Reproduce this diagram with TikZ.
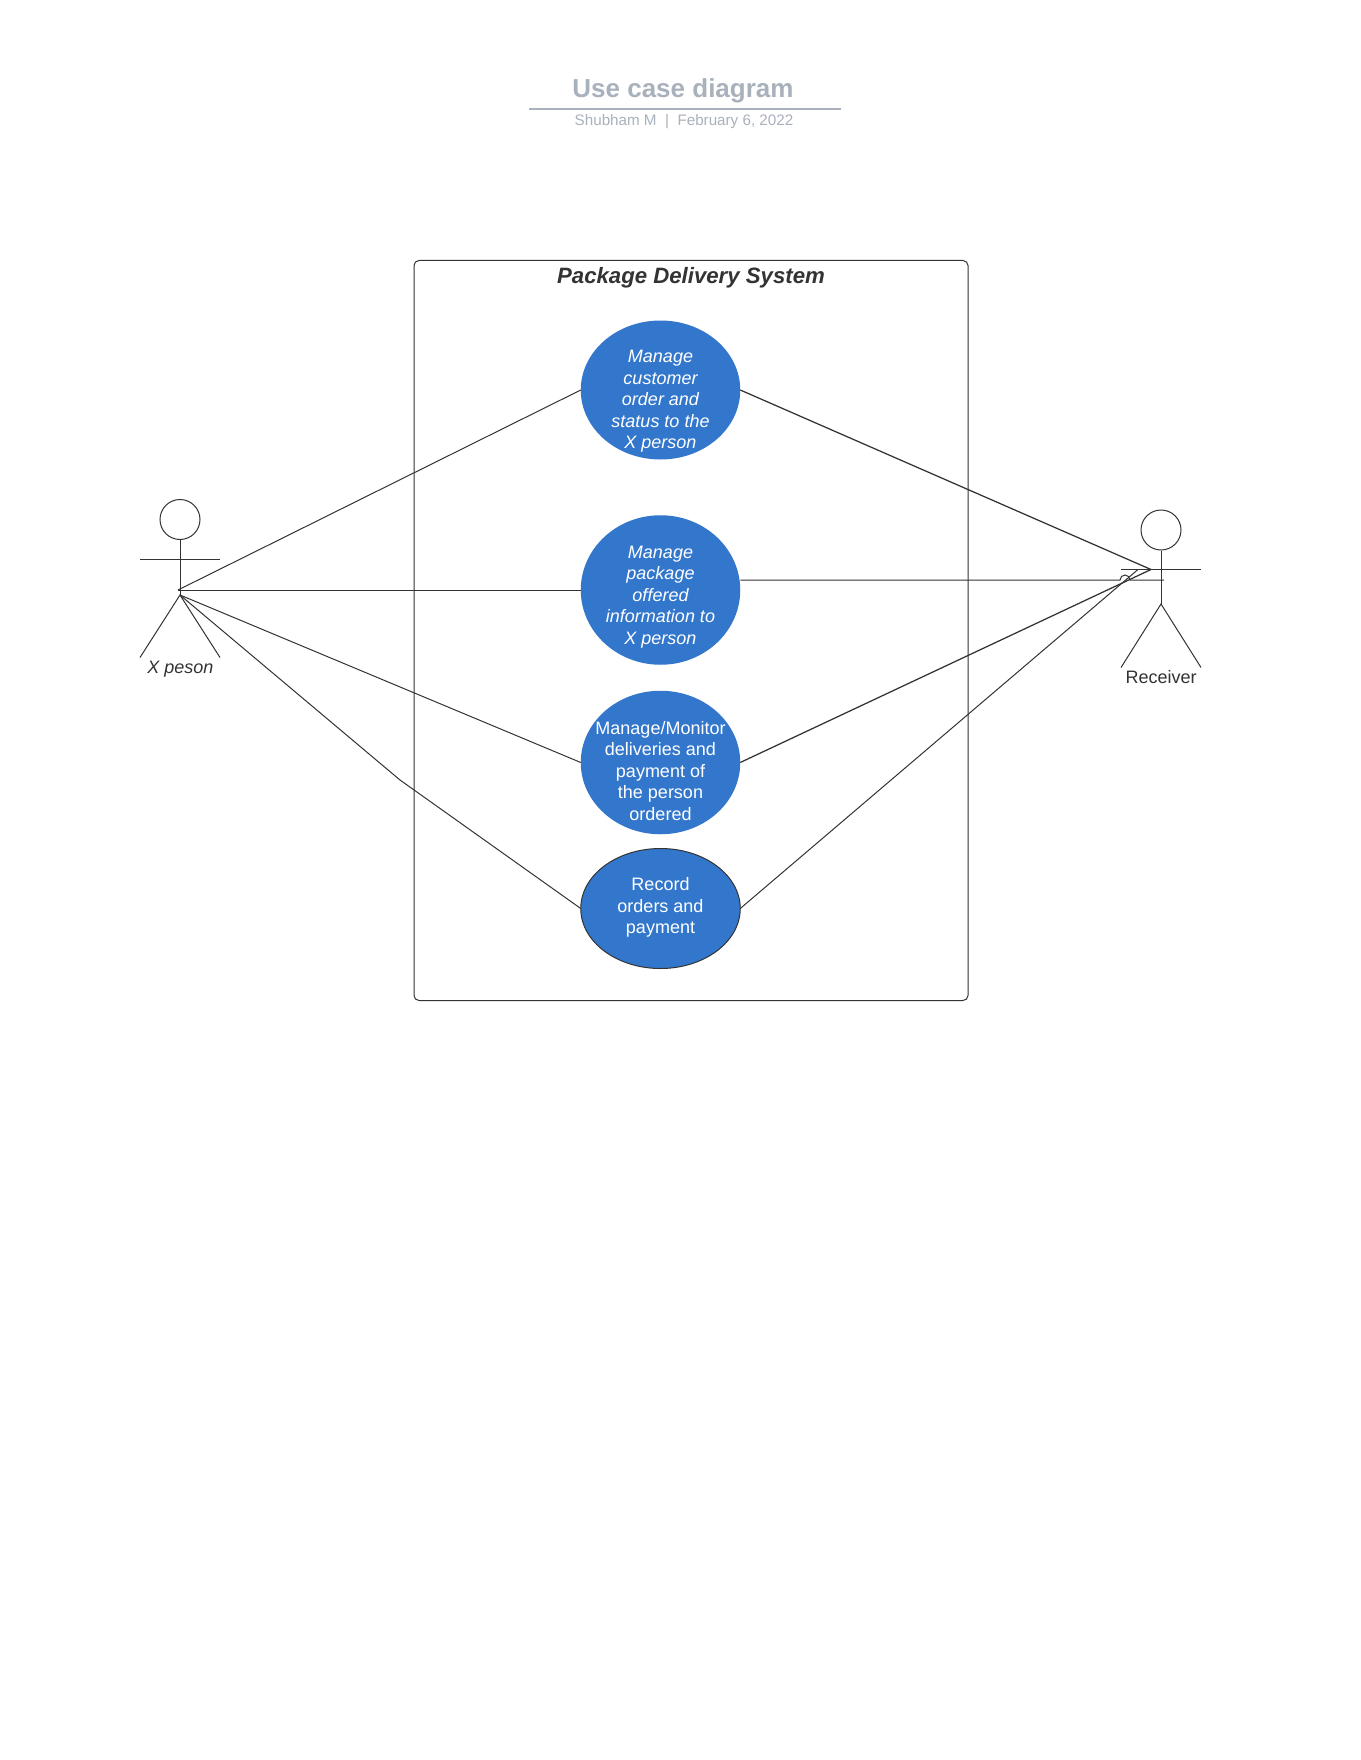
\documentclass[tikz,border=0pt]{standalone}
\usepackage{fontspec}
\setmainfont{Liberation Sans}
\usetikzlibrary{shapes.geometric}
\definecolor{ucblue}{HTML}{3377CC}
\definecolor{ink}{HTML}{333333}
\definecolor{titlegrey}{HTML}{A9B1BC}
\tikzset{
  x=1pt,y=-1pt,
  line/.style={draw=ink,line width=1pt},
  heavy/.style={draw=ink,line width=1.25pt},
  usecase/.style={ellipse,fill=ucblue,inner sep=0pt,outer sep=0pt,minimum width=159.5pt},
  casetext/.style={inner sep=0pt,text=white,align=center,font=\fontsize{18}{21.45}\selectfont},
  actorlabel/.style={text=ink,font=\fontsize{18}{21.5}\selectfont,inner sep=0pt},
  headshape/.style={circle,draw=ink,line width=1pt,minimum size=40pt,inner sep=0pt}
}
\begin{document}
\begin{tikzpicture}
\useasboundingbox (0,0) rectangle (1360,1760);
\fill[white] (0,0) rectangle (1360,1760);
% title
\node[inner sep=0pt,text=titlegrey,font=\fontsize{26}{30}\selectfont\bfseries] (title) at (683,91) {Use case diagram};
\coordinate (ruleL) at (529,109);
\coordinate (ruleR) at (840.5,109);
\draw[titlegrey,line width=1.6pt] (ruleL) -- (ruleR);
\node[inner sep=0pt,text=titlegrey,font=\fontsize{15.2}{18}\selectfont] (sub) at (684,122) {Shubham M\ \ |\ \ February 6, 2022};
% frame
\draw[line,rounded corners=5pt] (414,260.5) rectangle (968,1000.5);
\node[inner sep=0pt,text=ink,font=\fontsize{22.2}{26}\selectfont\bfseries\itshape] (sys) at (691,277.5) {Package Delivery System};
% use cases
\node[usecase,minimum height=139pt] (u1) at (660.5,390) {};
\node[casetext] (u1t) at (660.5,401.3) {\itshape Manage\\\itshape customer\\\itshape order and\\\itshape status to the\\\itshape X person};
\node[usecase,minimum height=149.5pt] (u2) at (660.5,590) {};
\node[casetext] (u2t) at (660.5,597) {\itshape Manage\\\itshape package\\\itshape offered\\\itshape information to\\\itshape X person};
\node[usecase,minimum height=143.5pt] (u3) at (660.5,762.5) {};
\node[casetext] (u3t) at (660.5,771) {Manage/Monitor\\deliveries and\\payment of\\the person\\ordered};
\node[usecase,draw=ink,line width=1pt,minimum height=120pt] (u4) at (660.5,908.5) {};
\node[casetext] (u4t) at (660.5,907.5) {Record\\orders and\\payment};
% left actor
\node[headshape] (lhead) at (180,519.5) {};
\coordinate (lhip) at (180,595);
\coordinate (larmL) at (140,559);
\coordinate (larmR) at (220,559);
\coordinate (llegL) at (140,657.5);
\coordinate (llegR) at (220,657.5);
\draw[line] (lhead.south) -- (lhip);
\draw[line] (larmL) -- (larmR);
\draw[line] (llegL) -- (lhip) -- (llegR);
\node[actorlabel,font=\fontsize{18}{21.5}\selectfont\itshape] (lname) at (180.5,669.5) {X peson};
% right actor
\node[headshape] (rhead) at (1161,530) {};
\coordinate (rhip) at (1161,604);
\coordinate (rarmL) at (1121,569.5);
\coordinate (rarmR) at (1201,569.5);
\coordinate (rlegL) at (1121,667.5);
\coordinate (rlegR) at (1201,667.5);
\draw[line] (rhead.south) -- (rhip);
\draw[line] (rarmL) -- (rarmR);
\draw[line] (rlegL) -- (rhip) -- (rlegR);
\node[actorlabel] (rname) at (1161,677) {Receiver};
% connectors
\coordinate (la) at (178,590);
\coordinate (lb) at (180,595);
\coordinate (bend) at (400,780);
\coordinate (ra) at (1151,569.5);
\coordinate (rb) at (1138,569.5);
\coordinate (rc) at (1164,580);
\coordinate (bumpA) at (1120,580);
\draw[line] (la) -- (u1.west);
\draw[line] (la) -- (u2.west);
\draw[line] (lb) -- (u3.west);
\draw[line] (lb) -- (bend) -- (u4.west);
\draw[heavy] (u1.east) -- (ra);
\draw[line] (u2.east |- bumpA) -- (bumpA) arc[start angle=180,end angle=0,radius=5pt] -- (rc);
\draw[heavy] (u3.east) -- (ra);
\draw[line] (u4.east) -- (rb);
\end{tikzpicture}
\end{document}
